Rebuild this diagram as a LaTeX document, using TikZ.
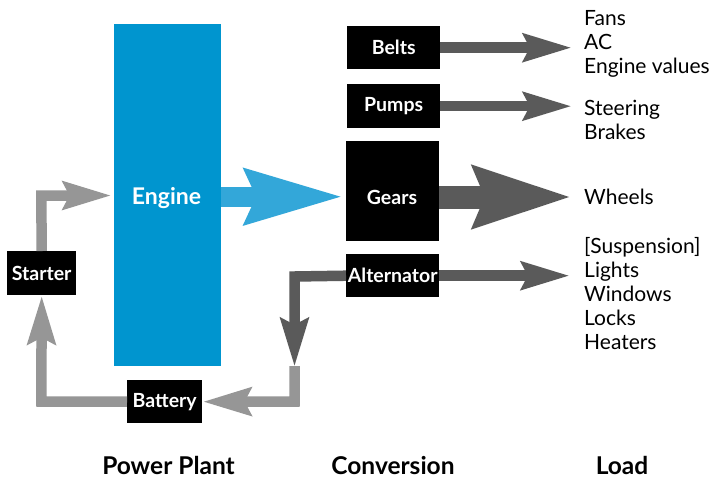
\documentclass[tikz,border=0pt]{standalone}
\usepackage{fontspec}
\setmainfont{Lato}
\usetikzlibrary{arrows.meta}
\definecolor{engblue}{RGB}{0,149,207}
\definecolor{arrblue}{RGB}{51,167,217}
\definecolor{darkarr}{RGB}{90,90,90}
\definecolor{lightarr}{RGB}{150,150,150}
\begin{document}
\begin{tikzpicture}[x=1pt,y=-1pt,
  blackbox/.style={fill=black,text=white,font=\bfseries\fontsize{19.5}{22}\selectfont,
    inner sep=0pt,anchor=north west},
  loadtext/.style={anchor=west,align=left,inner sep=0pt,font=\fontsize{21}{24}\selectfont},
  headtext/.style={font=\bfseries\fontsize{24.5}{27}\selectfont,inner sep=0pt,anchor=base},
  darkflow/.style={draw=darkarr,line width=10.5pt,line join=miter},
  lightflow/.style={draw=lightarr,line width=10.5pt,line join=miter},
  smallhead/.style={-{Stealth[length=48pt,width=27pt,inset=6pt]}},
]
\useasboundingbox[fill=white] (0,0) rectangle (714,480);

% boxes
\node[fill=engblue,minimum width=107pt,minimum height=342pt,inner sep=0pt,anchor=north west]
  (engine) at (114,24) {};
\node[text=white,font=\bfseries\fontsize{23}{26}\selectfont] (enginelabel) at (166.5,198) {Engine};
\node[blackbox,minimum width=93pt,minimum height=43pt] (belts) at (347,26) {Belts};
\node[blackbox,minimum width=93pt,minimum height=44pt] (pumps) at (347,84) {Pumps};
\node[blackbox,minimum width=93pt,minimum height=100pt] (gears) at (346,141) {};
\node[text=white,font=\bfseries\fontsize{19.5}{22}\selectfont,inner sep=0pt] (gearslabel) at (392,197) {Gears};
\node[blackbox,minimum width=93pt,minimum height=43pt] (alt) at (346,254) {Alternator};
\node[blackbox,minimum width=69pt,minimum height=44pt] (starter) at (7,251) {Starter};
\node[blackbox,minimum width=75pt,minimum height=43pt] (battery) at (127,380) {Battery};

% load texts
\node[loadtext] (l1) at (584,44) {Fans\\AC\\Engine values};
\node[loadtext] (l2) at (584,119.5) {Steering\\Brakes};
\node[loadtext] (l3) at (584,197) {Wheels};
\node[loadtext] (l4) at (584,294) {[Suspension]\\Lights\\Windows\\Locks\\Heaters};

% headings
\node[headtext] (h1) at (168.5,474) {Power Plant};
\node[headtext] (h2) at (393,474) {Conversion};
\node[headtext] (h3) at (622,474) {Load};

% coordinates
\coordinate (tipx) at (572,0);
\coordinate (alttip) at (570,0);
\coordinate (gtip) at (343.5,196.7);
\coordinate (etip) at (111.7,195.5);
\coordinate (scorner) at (41.3,195.5);
\coordinate (acorner) at (294.5,276.5);
\coordinate (adown) at (294.5,367);
\coordinate (lstart) at (294.5,366);
\coordinate (lcorner) at (294.5,401.5);
\coordinate (bcorner) at (41.3,401.5);

% blue arrow
\draw[draw=arrblue,line width=20pt,-{Stealth[length=97pt,width=53pt,inset=10pt]}]
  (engine.east |- gtip) -- (gtip);

% dark arrows
\draw[darkflow,smallhead] (belts.east) -- (belts.east -| tipx);
\draw[darkflow,smallhead] (pumps.east) -- (pumps.east -| tipx);
\draw[draw=darkarr,line width=23pt,-{Stealth[length=97pt,width=59pt,inset=10pt]}]
  (gears.east |- gearslabel) -- (gearslabel -| tipx);
\draw[darkflow,smallhead] (alt.east) -- (alt.east -| alttip);

% battery loop
\draw[lightflow,smallhead] (lstart) -- (lcorner) -- (battery.east);
\draw[darkflow,smallhead] (alt.west) -- (acorner) -- (adown);
\draw[lightflow,smallhead] (battery.west) -- (bcorner) -- (starter.south);
\draw[lightflow,smallhead] (starter.north) -- (scorner) -- (etip);
\end{tikzpicture}
\end{document}
